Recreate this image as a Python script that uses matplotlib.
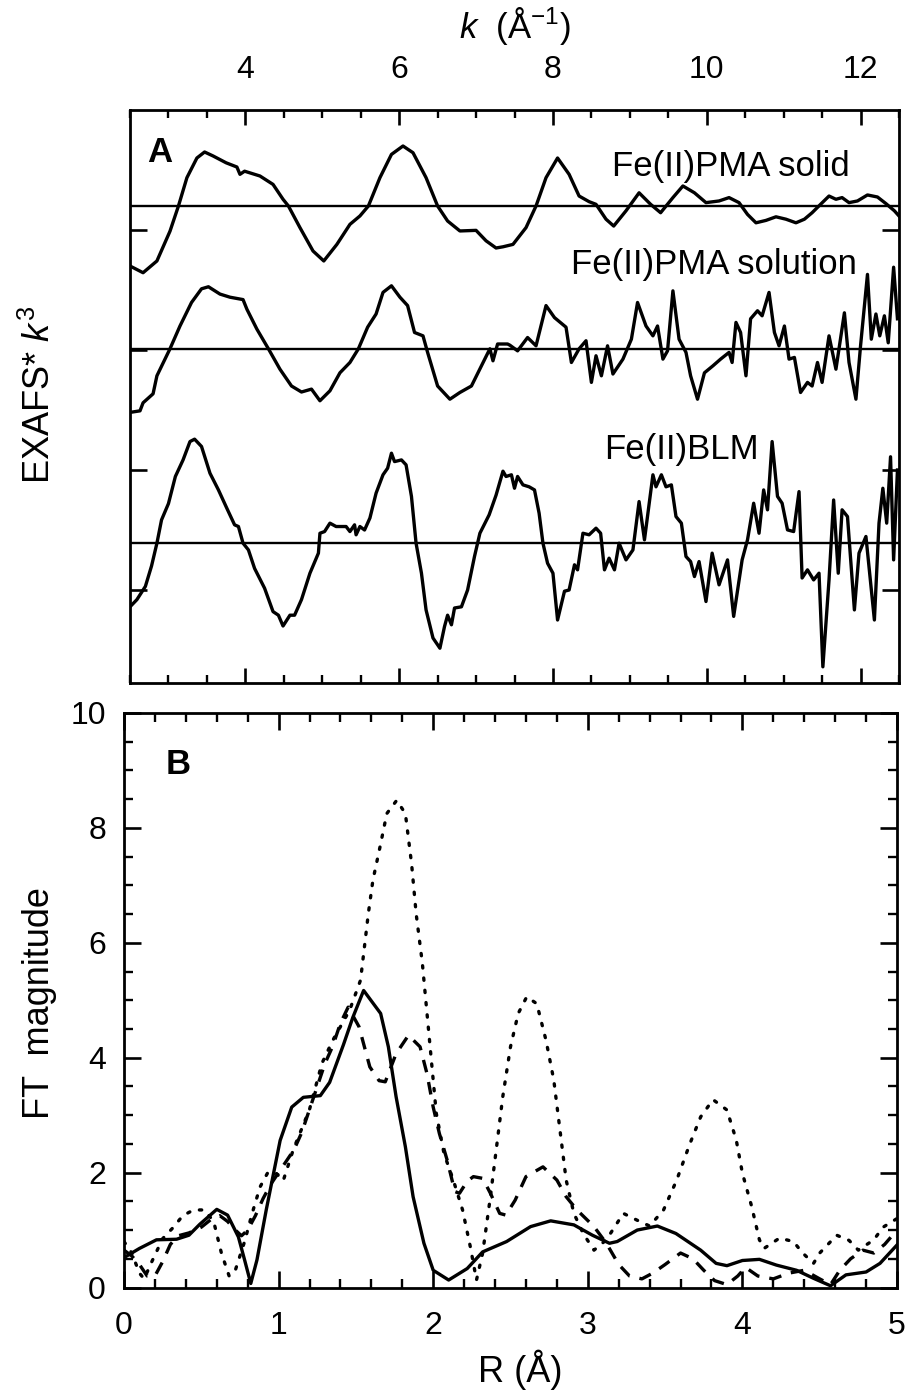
import numpy as np
import matplotlib
matplotlib.use('Agg')
import matplotlib.pyplot as plt
from matplotlib.ticker import MultipleLocator, NullFormatter

plt.rcParams['font.family'] = ['Liberation Sans', 'DejaVu Sans']
plt.rcParams['mathtext.fontset'] = 'custom'
plt.rcParams['mathtext.rm'] = 'Liberation Sans'
plt.rcParams['mathtext.it'] = 'Liberation Sans:italic'

# ---- Panel A: k^3-weighted EXAFS (values relative to each baseline) ----
solid_k = [2.50, 2.67, 2.85, 3.02, 3.13, 3.24, 3.37, 3.47, 3.58, 3.75, 3.89, 3.93, 3.99, 4.19,
           4.36, 4.49, 4.56, 4.71, 4.88, 5.02, 5.19, 5.36, 5.49, 5.60, 5.75, 5.90, 6.05, 6.18,
           6.35, 6.50, 6.63, 6.79, 7.00, 7.13, 7.26, 7.35, 7.48, 7.65, 7.78, 7.91, 8.06, 8.21,
           8.34, 8.47, 8.56, 8.69, 8.79, 8.95, 9.12, 9.27, 9.40, 9.56, 9.69, 9.84, 9.99, 10.16,
           10.29, 10.42, 10.53, 10.64, 10.77, 10.90, 11.03, 11.16, 11.27, 11.37, 11.48, 11.59,
           11.68, 11.76, 11.85, 11.96, 12.09, 12.22, 12.33, 12.44, 12.50]
solid_v = [-0.50, -0.556, -0.458, -0.21, 0.0, 0.236, 0.40, 0.45, 0.417, 0.36, 0.325, 0.264,
           0.29, 0.25, 0.18, 0.056, 0.0, -0.18, -0.375, -0.458, -0.32, -0.153, -0.083, 0.0,
           0.236, 0.43, 0.50, 0.444, 0.236, 0.0, -0.125, -0.208, -0.203, -0.29, -0.35, -0.34,
           -0.32, -0.18, 0.0, 0.236, 0.40, 0.264, 0.083, 0.036, 0.014, -0.11, -0.167, -0.04,
           0.11, 0.014, -0.056, 0.07, 0.167, 0.11, 0.028, 0.042, 0.07, 0.028, -0.07, -0.14,
           -0.12, -0.09, -0.11, -0.14, -0.11, -0.056, 0.014, 0.083, 0.056, 0.07, 0.028, 0.042,
           0.092, 0.075, 0.02, -0.04, -0.083]

soln_k = [2.50, 2.63, 2.67, 2.80, 2.85, 3.02, 3.15, 3.30, 3.43, 3.52, 3.67, 3.80, 3.97, 4.02,
          4.15, 4.30, 4.45, 4.60, 4.73, 4.86, 4.97, 5.10, 5.23, 5.36, 5.47, 5.59, 5.70, 5.79,
          5.90, 6.01, 6.11, 6.20, 6.31, 6.37, 6.50, 6.66, 6.79, 6.94, 7.07, 7.18, 7.22, 7.28,
          7.41, 7.44, 7.54, 7.67, 7.78, 7.91, 8.02, 8.17, 8.24, 8.34, 8.43, 8.50, 8.56, 8.63,
          8.71, 8.78, 8.91, 9.02, 9.10, 9.21, 9.30, 9.36, 9.43, 9.49, 9.56, 9.64, 9.73, 9.79,
          9.88, 9.97, 10.08, 10.18, 10.29, 10.33, 10.38, 10.44, 10.51, 10.57, 10.66, 10.72,
          10.81, 10.88, 10.94, 11.01, 11.07, 11.14, 11.22, 11.31, 11.37, 11.44, 11.50, 11.59,
          11.68, 11.79, 11.85, 11.94, 12.00, 12.09, 12.14, 12.20, 12.25, 12.31, 12.36, 12.43,
          12.48]
soln_v = [-0.53, -0.517, -0.45, -0.375, -0.225, 0.0, 0.19, 0.386, 0.50, 0.517, 0.456, 0.43,
          0.41, 0.33, 0.164, 0.0, -0.17, -0.31, -0.36, -0.336, -0.433, -0.35, -0.20, -0.114,
          0.0, 0.18, 0.29, 0.47, 0.525, 0.43, 0.36, 0.136, 0.108, -0.03, -0.31, -0.42, -0.364,
          -0.31, -0.142, 0.0, -0.10, 0.04, 0.04, 0.03, -0.017, 0.094, 0.025, 0.36, 0.26, 0.18,
          -0.114, 0.0, 0.067, -0.28, -0.058, -0.225, 0.025, -0.21, -0.086, 0.08, 0.386, 0.19,
          0.108, 0.19, -0.086, -0.017, 0.483, 0.08, -0.03, -0.225, -0.42, -0.20, -0.142, -0.086,
          -0.03, -0.114, 0.22, 0.136, -0.225, 0.25, 0.317, 0.275, 0.47, 0.136, 0.025, 0.19,
          -0.086, -0.072, -0.364, -0.28, -0.31, -0.114, -0.28, 0.108, -0.17, 0.30, -0.114, -0.42,
          0.025, 0.62, 0.08, 0.29, 0.108, 0.275, 0.05, 0.68, 0.25]

blm_k = [2.50, 2.59, 2.70, 2.78, 2.85, 2.91, 3.00, 3.09, 3.19, 3.28, 3.34, 3.43, 3.54, 3.65,
         3.76, 3.86, 3.91, 3.97, 4.04, 4.12, 4.25, 4.36, 4.43, 4.49, 4.58, 4.64, 4.73, 4.84,
         4.95, 4.97, 5.03, 5.10, 5.18, 5.31, 5.36, 5.42, 5.44, 5.49, 5.55, 5.62, 5.70, 5.79,
         5.85, 5.90, 5.94, 6.03, 6.09, 6.16, 6.22, 6.29, 6.35, 6.44, 6.53, 6.59, 6.63, 6.68,
         6.72, 6.81, 6.89, 6.98, 7.05, 7.17, 7.26, 7.35, 7.39, 7.46, 7.50, 7.54, 7.61, 7.69,
         7.76, 7.82, 7.87, 7.93, 8.00, 8.06, 8.15, 8.21, 8.28, 8.32, 8.39, 8.47, 8.56, 8.62,
         8.67, 8.73, 8.80, 8.86, 8.95, 9.04, 9.12, 9.19, 9.30, 9.34, 9.41, 9.47, 9.54, 9.60,
         9.67, 9.73, 9.79, 9.84, 9.90, 9.99, 10.07, 10.16, 10.27, 10.35, 10.46, 10.53, 10.61,
         10.68, 10.74, 10.79, 10.85, 10.92, 10.98, 11.05, 11.13, 11.20, 11.24, 11.31, 11.39,
         11.46, 11.51, 11.59, 11.65, 11.71, 11.76, 11.83, 11.92, 11.98, 12.07, 12.18, 12.24,
         12.29, 12.34, 12.39, 12.43, 12.48]
blm_v = [-0.53, -0.47, -0.36, -0.19, 0.0, 0.194, 0.33, 0.556, 0.694, 0.847, 0.867, 0.806,
         0.583, 0.444, 0.29, 0.153, 0.139, 0.0, -0.056, -0.21, -0.375, -0.57, -0.60, -0.69,
         -0.60, -0.60, -0.47, -0.25, -0.083, 0.083, 0.097, 0.167, 0.139, 0.139, 0.097, 0.153,
         0.07, 0.139, 0.11, 0.21, 0.417, 0.57, 0.625, 0.75, 0.68, 0.694, 0.653, 0.39, 0.0,
         -0.25, -0.556, -0.79, -0.875, -0.694, -0.60, -0.68, -0.54, -0.53, -0.39, -0.11, 0.083,
         0.236, 0.40, 0.60, 0.556, 0.57, 0.458, 0.556, 0.486, 0.47, 0.444, 0.25, 0.0, -0.167,
         -0.25, -0.64, -0.40, -0.39, -0.18, -0.222, 0.083, 0.07, 0.125, 0.083, -0.222, -0.125,
         -0.222, 0.0, -0.139, -0.056, 0.347, 0.028, 0.57, 0.47, 0.57, 0.47, 0.486, 0.222, 0.167,
         -0.111, -0.153, -0.278, -0.153, -0.486, -0.083, -0.347, -0.139, -0.61, -0.139, 0.028,
         0.333, 0.083, 0.444, 0.278, 0.847, 0.39, 0.333, 0.111, 0.097, 0.43, -0.29, -0.222,
         -0.306, -0.25, -1.03, -0.306, 0.36, -0.25, 0.278, 0.222, -0.556, -0.083, 0.056, -0.64,
         0.167, 0.458, 0.167, 0.72, -0.139, 0.61]

offsets = [3.2, 2.01, 0.39]
labels_a = ['Fe(II)PMA solid', 'Fe(II)PMA solution', 'Fe(II)BLM']

# ---- Panel B: Fourier transform magnitudes ----
ft_solid_r = [0.0, 0.10, 0.21, 0.34, 0.42, 0.49, 0.60, 0.67, 0.74, 0.78, 0.82, 0.86, 0.92, 1.01,
              1.085, 1.16, 1.27, 1.33, 1.42, 1.48, 1.55, 1.66, 1.71, 1.76, 1.82, 1.87, 1.94,
              2.00, 2.10, 2.22, 2.32, 2.475, 2.63, 2.76, 2.91, 3.03, 3.14, 3.19, 3.32, 3.45,
              3.57, 3.73, 3.83, 3.90, 4.00, 4.11, 4.22, 4.35, 4.46, 4.57, 4.67, 4.80, 4.89, 5.00]
ft_solid = [0.52, 0.68, 0.83, 0.84, 0.91, 1.10, 1.36, 1.26, 0.88, 0.48, 0.07, 0.48, 1.35, 2.56,
            3.14, 3.31, 3.34, 3.57, 4.23, 4.70, 5.17, 4.77, 4.19, 3.32, 2.45, 1.58, 0.77, 0.30,
            0.13, 0.33, 0.62, 0.80, 1.06, 1.16, 1.09, 0.91, 0.77, 0.80, 1.00, 1.07, 0.94, 0.65,
            0.42, 0.38, 0.47, 0.49, 0.39, 0.30, 0.16, 0.03, 0.22, 0.27, 0.42, 0.74]

ft_dot_r = [0.0, 0.05, 0.10, 0.13, 0.18, 0.25, 0.32, 0.38, 0.45, 0.52, 0.58, 0.63, 0.68, 0.72,
            0.78, 0.83, 0.88, 0.93, 0.98, 1.03, 1.095, 1.20, 1.28, 1.35, 1.46, 1.53, 1.58, 1.61,
            1.656, 1.70, 1.764, 1.82, 1.86, 1.89, 1.93, 1.96, 1.99, 2.02, 2.07, 2.13, 2.19, 2.24,
            2.28, 2.32, 2.37, 2.41, 2.45, 2.50, 2.55, 2.605, 2.67, 2.73, 2.78, 2.82, 2.86, 2.91,
            2.97, 3.04, 3.12, 3.23, 3.32, 3.40, 3.49, 3.575, 3.66, 3.73, 3.81, 3.90, 3.96, 4.00,
            4.06, 4.11, 4.14, 4.24, 4.33, 4.39, 4.46, 4.50, 4.61, 4.69, 4.75, 4.85, 4.91, 5.00]
ft_dot = [0.8, 0.6, 0.25, 0.15, 0.45, 0.85, 1.05, 1.25, 1.35, 1.35, 1.15, 0.6, 0.2, 0.3, 0.8,
          1.3, 1.75, 2.0, 2.0, 1.86, 2.4, 3.1, 3.9, 4.3, 4.83, 5.35, 6.5, 7.09, 7.67, 8.25, 8.48,
          8.25, 7.38, 6.5, 5.64, 4.77, 3.9, 3.03, 2.33, 1.87, 1.35, 0.71, 0.13, 0.6, 1.58, 2.45,
          3.32, 4.19, 4.77, 5.06, 4.94, 4.30, 3.61, 2.74, 1.87, 1.29, 0.94, 0.65, 0.83, 1.29,
          1.17, 1.07, 1.35, 1.87, 2.5, 2.97, 3.27, 3.09, 2.57, 1.99, 1.41, 0.83, 0.68, 0.86, 0.80,
          0.6, 0.42, 0.6, 0.91, 0.82, 0.65, 0.83, 1.05, 1.2]

ft_dash_r = [0.0, 0.05, 0.10, 0.15, 0.20, 0.25, 0.30, 0.35, 0.42, 0.50, 0.57, 0.62, 0.67, 0.72,
             0.76, 0.80, 0.85, 0.90, 0.95, 1.00, 1.05, 1.10, 1.15, 1.20, 1.25, 1.30, 1.35, 1.40,
             1.45, 1.52, 1.59, 1.65, 1.69, 1.76, 1.84, 1.915, 1.96, 2.00, 2.04, 2.09, 2.14, 2.17,
             2.22, 2.26, 2.32, 2.37, 2.43, 2.47, 2.53, 2.60, 2.71, 2.80, 2.86, 2.93, 3.04, 3.12,
             3.20, 3.27, 3.35, 3.42, 3.50, 3.60, 3.68, 3.75, 3.82, 3.90, 3.97, 4.02, 4.10, 4.20,
             4.30, 4.40, 4.50, 4.57, 4.63, 4.70, 4.78, 4.85, 4.92, 5.00]
ft_dash = [0.65, 0.55, 0.4, 0.2, 0.2, 0.45, 0.75, 0.9, 0.95, 1.05, 1.2, 1.25, 1.15, 1.0, 0.9,
           1.0, 1.25, 1.55, 1.8, 2.0, 2.2, 2.4, 2.7, 3.1, 3.5, 3.9, 4.2, 4.6, 4.88, 4.54, 3.84,
           3.6, 3.58, 4.07, 4.39, 4.19, 3.72, 3.14, 2.68, 2.22, 1.67, 1.64, 1.85, 1.93, 1.90,
           1.64, 1.29, 1.26, 1.52, 1.93, 2.10, 1.87, 1.58, 1.35, 1.06, 0.77, 0.4, 0.2, 0.15, 0.25,
           0.4, 0.6, 0.5, 0.3, 0.12, 0.05, 0.2, 0.35, 0.2, 0.15, 0.25, 0.3, 0.15, 0.05, 0.3, 0.5,
           0.65, 0.6, 0.75, 1.0]

FS_TICK = 23
FS_NOTE = 25
FS_AXIS = 26
W, H = 907, 1394
fig = plt.figure(figsize=(W / 100, H / 100), dpi=100)

def box(l, t, r, b):
    return [l / W, 1 - b / H, (r - l) / W, (b - t) / H]

# Panel A
axA = fig.add_axes(box(130, 110, 899, 683))
for kk, vv, off in zip([solid_k, soln_k, blm_k], [solid_v, soln_v, blm_v], offsets):
    axA.plot(kk, np.array(vv) + off, color='black', lw=2.4, solid_joinstyle='round')
    axA.axhline(off, color='black', lw=1.7)
axA.set_xlim(2.5, 12.5)
axA.set_ylim(-0.775, 4.0)
axA.xaxis.set_major_locator(MultipleLocator(2))
axA.xaxis.set_minor_locator(MultipleLocator(0.5))
axA.set_yticks([0, 1, 2, 3])
axA.yaxis.set_major_formatter(NullFormatter())
axA.tick_params(axis='x', which='both', direction='in', top=True, bottom=True,
                labeltop=True, labelbottom=False, labelsize=FS_TICK, pad=18)
axA.tick_params(axis='x', which='major', length=11, width=1.9)
axA.tick_params(axis='x', which='minor', length=5.5, width=1.7)
axA.tick_params(axis='y', which='major', direction='in', left=True, right=True,
                length=12, width=1.9)
axA.text(2.88, 3.65, 'A', fontsize=FS_NOTE, fontweight='bold', ha='center', va='center')
axA.text(11.86, 3.53, labels_a[0], fontsize=FS_NOTE, ha='right', va='center')
axA.text(11.95, 2.71, labels_a[1], fontsize=FS_NOTE, ha='right', va='center')
axA.text(10.67, 1.175, labels_a[2], fontsize=FS_NOTE, ha='right', va='center')

# Panel B
axB = fig.add_axes(box(124, 713, 897, 1287.5))
axB.plot(ft_solid_r, ft_solid, color='black', lw=2.4, solid_joinstyle='round')
axB.plot(ft_dash_r, ft_dash, color='black', lw=2.4, linestyle=(0, (3.8, 3.0)))
axB.plot(ft_dot_r, ft_dot, color='black', lw=2.4, linestyle=(0, (0.7, 3.0)),
         dash_capstyle='round')
axB.set_xlim(0, 5)
axB.set_ylim(0, 10)
axB.xaxis.set_major_locator(MultipleLocator(1))
axB.xaxis.set_minor_locator(MultipleLocator(0.2))
axB.yaxis.set_major_locator(MultipleLocator(2))
axB.yaxis.set_minor_locator(MultipleLocator(0.5))
axB.tick_params(which='both', direction='in', top=True, right=True, labelsize=FS_TICK)
axB.tick_params(which='major', length=12, width=1.9)
axB.tick_params(which='minor', length=6.5, width=1.7)
axB.tick_params(axis='x', pad=17)
axB.tick_params(axis='y', pad=13)
axB.text(0.35, 9.1, 'B', fontsize=FS_NOTE, fontweight='bold', ha='center', va='center')

for ax in (axA, axB):
    for sp in ax.spines.values():
        sp.set_linewidth(2.0)

# Axis titles placed as figure text
fig.text(515 / W, 1 - 26 / H, r'$k$  (Å$^{-1}$)', fontsize=25, ha='center', va='center')
fig.text(40 / W, 1 - 395 / H, r'EXAFS* $k^3$', fontsize=FS_AXIS, rotation=90,
         ha='center', va='center')
fig.text(40 / W, 1 - 1003 / H, 'FT  magnitude', fontsize=FS_AXIS, rotation=90,
         ha='center', va='center')
fig.text(520 / W, 1 - 1370 / H, 'R (Å)', fontsize=FS_AXIS, ha='center', va='center')

fig.savefig('out.png', dpi=100)
